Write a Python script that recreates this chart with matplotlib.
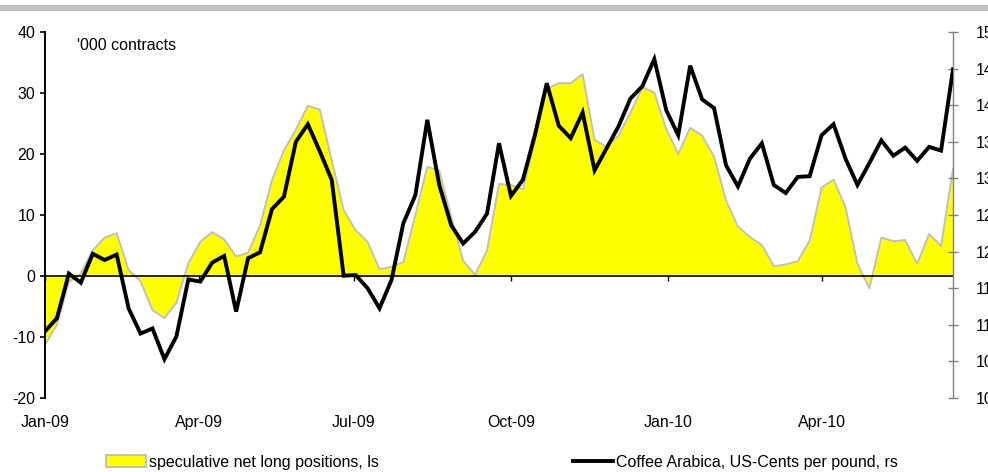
import matplotlib
matplotlib.use('Agg')
from matplotlib import pyplot as plt
from matplotlib.patches import Rectangle, Patch
from matplotlib.lines import Line2D
import matplotlib.dates as mdates
import pandas as pd

plt.rcParams['font.family'] = ['Liberation Sans', 'DejaVu Sans']
plt.rcParams['font.size'] = 11.5
plt.rcParams['axes.unicode_minus'] = False

# weekly observations, Jan-09 .. Jun-10
dates = pd.date_range('2009-01-06', periods=77, freq='7D')

# speculative net long positions, '000 contracts (left scale)
net_long = [
    -11.3, -8.0, -1.0, 0.4, 4.2, 6.3, 7.0, 1.0, -0.9, -5.6,
    -6.9, -4.4, 2.1, 5.6, 7.2, 6.0, 3.2, 3.8, 8.3, 15.7,
    20.6, 24.0, 27.9, 27.3, 19.0, 10.8, 7.5, 5.6, 1.1, 1.5,
    2.3, 10.0, 17.9, 17.3, 9.7, 2.5, 0.2, 4.2, 15.1, 14.9,
    14.2, 22.2, 30.7, 31.6, 31.6, 33.1, 22.3, 21.2, 23.0, 26.8,
    30.9, 30.1, 24.1, 20.0, 24.3, 23.0, 19.6, 12.4, 8.1, 6.4,
    5.1, 1.6, 1.9, 2.4, 5.8, 14.5, 15.8, 11.3, 2.0, -2.0,
    6.3, 5.7, 5.9, 2.0, 6.9, 4.9, 17.6,
]

# Coffee Arabica, US-Cents per pound (right scale)
price = [
    109.1, 110.9, 117.0, 115.75, 119.7, 118.85, 119.6, 112.25, 108.8, 109.5,
    105.3, 108.4, 116.2, 115.9, 118.5, 119.4, 111.8, 119.1, 119.9, 125.8,
    127.5, 135.0, 137.4, 133.7, 129.8, 116.7, 116.8, 115.0, 112.25, 116.1,
    123.9, 127.7, 138.0, 129.1, 123.6, 121.1, 122.7, 125.2, 134.8, 127.6,
    129.8, 135.9, 143.0, 137.2, 135.5, 139.0, 131.1, 134.1, 137.1, 140.9,
    142.6, 146.3, 139.3, 135.9, 145.4, 140.8, 139.6, 131.8, 128.9, 132.7,
    134.8, 129.1, 128.0, 130.2, 130.3, 135.9, 137.4, 132.7, 129.1, 132.1,
    135.2, 133.1, 134.2, 132.4, 134.3, 133.8, 144.9,
]

tick_dates = pd.to_datetime(['2009-01-06', '2009-04-06', '2009-07-06',
                             '2009-10-06', '2010-01-06', '2010-04-06'])

label_net = 'speculative net long positions, ls'
label_price = 'Coffee Arabica, US-Cents per pound, rs'

fig = plt.figure(figsize=(9.88, 4.72), dpi=100)
ax = fig.add_axes([0.0455, 0.1568, 0.9191, 0.7754])

ax.fill_between(dates, net_long, 0, color='#ffff00', linewidth=0, zorder=1)
ax.plot(dates, net_long, color='#c0c0c0', linewidth=1.4, zorder=1.5)

ax.set_xlim(dates[0], dates[-1])
ax.set_ylim(-20, 40)
ax.set_yticks(range(-20, 41, 10))
ax.set_xticks(tick_dates)
ax.xaxis.set_major_formatter(mdates.DateFormatter('%b-%y'))

ax.spines['top'].set_visible(False)
ax.spines['right'].set_visible(False)
ax.spines['bottom'].set_position(('data', 0))
ax.spines['bottom'].set_linewidth(1.2)
ax.spines['left'].set_linewidth(1.4)
ax.tick_params(axis='y', direction='out', length=3.6, width=1.2, pad=3.5)
ax.tick_params(axis='x', direction='out', length=3.6, width=1.0, pad=96.5)

ax.text(0.035, 0.962, "'000 contracts", transform=ax.transAxes,
        ha='left', va='center')

ax2 = ax.twinx()
ax2.plot(dates, price, color='black', linewidth=2.8, solid_joinstyle='miter',
         zorder=3)
ax2.set_ylim(100, 150)
ax2.set_yticks(range(100, 151, 5))
for side in ['top', 'left', 'bottom']:
    ax2.spines[side].set_visible(False)
ax2.spines['right'].set_color('#808080')
ax2.spines['right'].set_linewidth(1.0)
ax2.tick_params(axis='y', direction='inout', length=7, width=1.0,
                color='#808080', pad=13)

# grey band at the top of the figure
fig.add_artist(Rectangle((0, 0.9767), 1, 0.0127, transform=fig.transFigure,
                         facecolor='#c0c0c0', edgecolor='none'))

handles = [
    Patch(facecolor='#ffff00', edgecolor='#c0c0c0', linewidth=1.4),
    Line2D([], [], color='black', linewidth=2.8),
]
fig.legend(handles, [label_net, label_price], loc='center',
           bbox_to_anchor=(0.508, 0.021), ncol=2, frameon=False,
           handlelength=2.5, handleheight=0.75, handletextpad=0.19,
           columnspacing=12.2, borderaxespad=0)

fig.savefig('out.png', dpi=100)
